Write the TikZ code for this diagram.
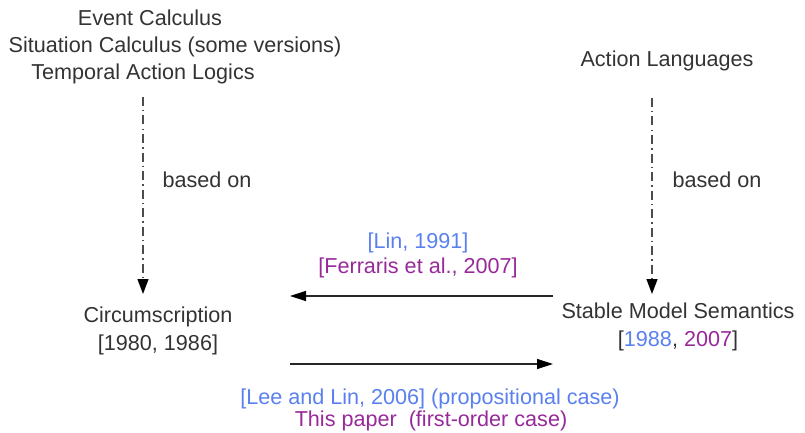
\documentclass[tikz,border=0pt]{standalone}
\usepackage{fontspec}
\setmainfont{Liberation Sans}
\usetikzlibrary{arrows.meta,calc}
\definecolor{txt}{HTML}{333333}
\definecolor{refblue}{HTML}{5A80F0}
\definecolor{refpurple}{HTML}{98299A}
\begin{document}
\begin{tikzpicture}[x=1pt,y=-1pt,
  lbl/.style={font=\fontsize{21.6}{28}\selectfont, text=txt, inner sep=0pt, anchor=base, align=center},
  based/.style={draw=black!70, line width=1.3pt, dash pattern=on 9pt off 4pt on 1.5pt off 4pt,
    -{Triangle[length=15pt,width=11pt,color=black]}},
  rel/.style={draw=black!85, line width=1.3pt, -{Triangle[length=16pt,width=10pt,color=black]}}]
\useasboundingbox (0,0) rectangle (805,433);
% source formalisms
\node[lbl] (ec)  at (150,26) {Event Calculus};
\node[lbl] (sc)  at (175,53) {Situation Calculus (some versions)};
\node[lbl] (tal) at (143,80) {Temporal Action Logics};
\node[lbl] (al)  at (667,67) {Action Languages};
% main nodes (base anchor = baseline of last line)
\node[lbl] (circ) at (158,350) {Circumscription\\{}[1980, 1986]};
\node[lbl] (sms)  at (678,346) {Stable Model Semantics\\{}[\textcolor{refblue}{1988}, \textcolor{refpurple}{2007}]};
% based-on arrows
\coordinate (l1) at (143,97);
\coordinate (l2) at (143,294);
\coordinate (r1) at (652,98);
\coordinate (r2) at (652,294);
\draw[based] (l1) -- (l2);
\draw[based] (r1) -- (r2);
\node[lbl] (b1) at (207,187) {based on};
\node[lbl] (b2) at (717,187) {based on};
% translation arrows
\coordinate (t1) at (553,296);
\coordinate (t2) at (290,296);
\coordinate (u1) at (290,364);
\coordinate (u2) at (553,364);
\draw[rel] (t1) -- (t2);
\draw[rel] (u1) -- (u2);
\node[lbl, text=refblue]   (lin)  at (418,248) {[Lin, 1991]};
\node[lbl, text=refpurple] (fer)  at (418,273) {[Ferraris et al., 2007]};
\node[lbl, text=refblue]   (lee)  at (430,404) {[Lee and Lin, 2006] (propositional case)};
\node[lbl, text=refpurple] (this) at (431,426) {This paper\ \ (first-order case)};
\end{tikzpicture}
\end{document}
